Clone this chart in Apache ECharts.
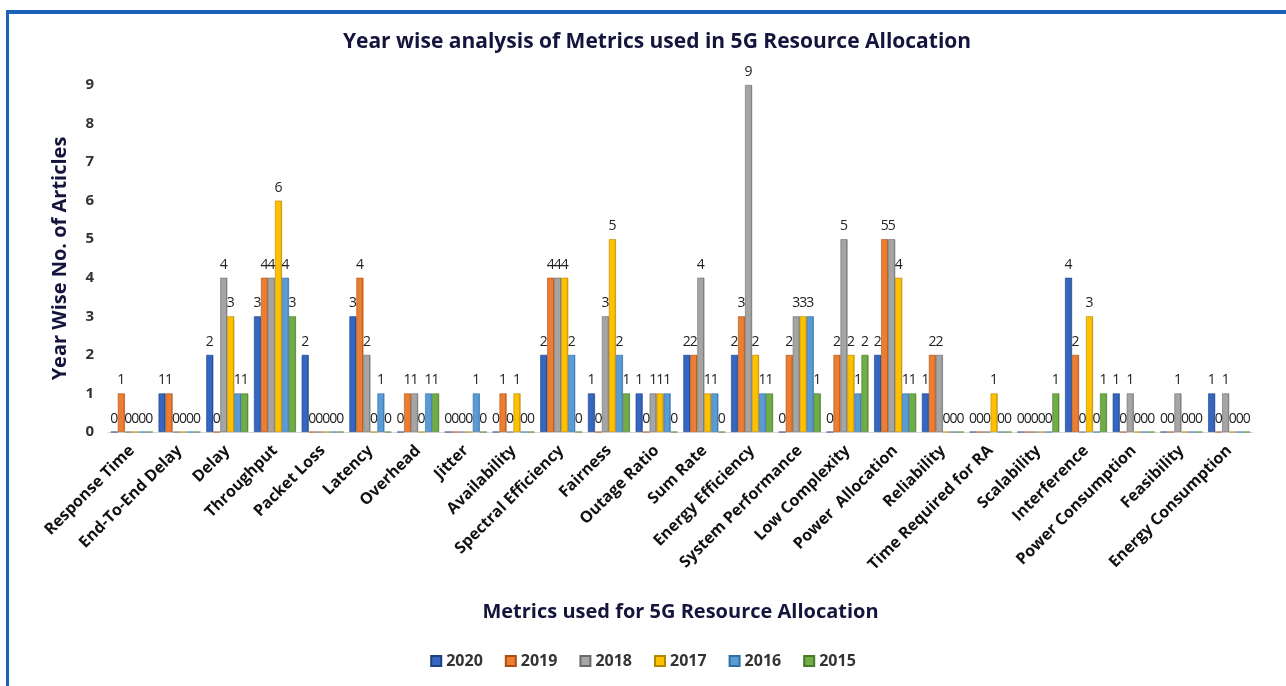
<!DOCTYPE html>
<html>
<head>
<meta charset="utf-8">
<script src="https://cdn.jsdelivr.net/npm/echarts@6/dist/echarts.min.js"></script>
<style>
  html, body { margin: 0; padding: 0; background: #fff; }
  #frame {
    position: absolute; left: 6px; top: 10px; width: 1290px; height: 690px;
    border-top: 4px solid #1a63b8; border-left: 3px solid #1a63b8;
  }
  #chart { position: absolute; left: 0; top: 0; width: 1286px; height: 686px; }
</style>
</head>
<body>
<div id="frame"></div>
<div id="chart"></div>
<script>
const categories = [
  'Response Time', 'End-To-End Delay', 'Delay', 'Throughput', 'Packet Loss', 'Latency',
  'Overhead', 'Jitter', 'Availability', 'Spectral Efficiency', 'Fairness', 'Outage Ratio',
  'Sum Rate', 'Energy Efficiency', 'System Performance', 'Low Complexity', 'Power  Allocation',
  'Reliability', 'Time Required for RA', 'Scalability', 'Interference', 'Power Consumption',
  'Feasibility', 'Energy Consumption'
]
const years = ['2020', '2019', '2018', '2017', '2016', '2015']

const v2020 = [0, 1, 2, 3, 2, 3, 0, 0, 0, 2, 1, 1, 2, 2, 0, 0, 2, 1, 0, 0, 4, 1, 0, 1]
const v2019 = [1, 1, 0, 4, 0, 4, 1, 0, 1, 4, 0, 0, 2, 3, 2, 2, 5, 2, 0, 0, 2, 0, 0, 0]
const v2018 = [0, 0, 4, 4, 0, 2, 1, 0, 0, 4, 3, 1, 4, 9, 3, 5, 5, 2, 0, 0, 0, 1, 1, 1]
const v2017 = [0, 0, 3, 6, 0, 0, 0, 0, 1, 4, 5, 1, 1, 2, 3, 2, 4, 0, 1, 0, 3, 0, 0, 0]
const v2016 = [0, 0, 1, 4, 0, 1, 1, 1, 0, 2, 2, 1, 1, 1, 3, 1, 1, 0, 0, 0, 0, 0, 0, 0]
const v2015 = [0, 0, 1, 3, 0, 0, 1, 0, 0, 0, 1, 0, 0, 1, 1, 2, 1, 0, 0, 1, 1, 0, 0, 0]
const yTicks = [0, 1, 2, 3, 4, 5, 6, 7, 8, 9]

const seriesValues = [v2020, v2019, v2018, v2017, v2016, v2015]
const colors = ['#3466c2', '#ed7d31', '#a5a5a5', '#ffc000', '#5b9bd5', '#70ad47']
const edges = ['#1f3f80', '#a84f14', '#6a6a6a', '#b38600', '#2f6ea6', '#467a2a']

const chart = echarts.init(document.getElementById('chart'))

const option = {
  animation: false,
  title: {
    text: 'Year wise analysis of Metrics used in 5G Resource Allocation',
    left: 652,
    top: 27,
    textAlign: 'center',
    textStyle: {
      fontFamily: 'Open Sans, sans-serif',
      fontSize: 21,
      fontWeight: 'bold',
      color: '#14143c'
    }
  },
  legend: {
    data: years.map((y, i) => ({ name: y, itemStyle: { color: colors[i] } })),
    bottom: 12,
    left: 'center',
    itemWidth: 10,
    itemHeight: 10,
    itemGap: 22,
    icon: 'rect',
    textStyle: { fontSize: 16, fontWeight: 'bold', color: '#333', fontFamily: 'Open Sans, sans-serif' }
  },
  grid: { left: 108, right: 33, top: 85, bottom: 254 },
  xAxis: {
    type: 'category',
    data: categories,
    name: 'Metrics used for 5G Resource Allocation',
    nameLocation: 'middle',
    nameGap: 170,
    nameTextStyle: { fontSize: 20, fontWeight: 'bold', color: '#14143c', fontFamily: 'Open Sans, sans-serif' },
    axisLine: { show: true, lineStyle: { color: '#d9d9d9' } },
    axisTick: { show: false },
    axisLabel: {
      interval: 0,
      rotate: 45,
      margin: 16,
      fontSize: 16,
      fontWeight: 'bold',
      color: '#111',
      fontFamily: 'Open Sans, sans-serif'
    }
  },
  yAxis: {
    type: 'value',
    min: 0,
    max: yTicks[yTicks.length - 1],
    interval: 1,
    name: 'Year Wise No. of Articles',
    nameLocation: 'middle',
    nameGap: 38,
    nameTextStyle: { fontSize: 20, fontWeight: 'bold', color: '#14143c', fontFamily: 'Open Sans, sans-serif' },
    axisLine: { show: false },
    axisTick: { show: false },
    splitLine: { show: false },
    axisLabel: { fontSize: 15, fontWeight: 'bold', color: '#333', margin: 14, fontFamily: 'Open Sans, sans-serif' }
  },
  series: years.map((y, i) => ({
    name: y,
    type: 'bar',
    data: seriesValues[i],
    barGap: '0%',
    barCategoryGap: '12%',
    itemStyle: {
      color: new echarts.graphic.LinearGradient(0, 0, 1, 0, [
        { offset: 0, color: colors[i] },
        { offset: 0.75, color: colors[i] },
        { offset: 1, color: edges[i] }
      ]),
      borderColor: edges[i],
      borderWidth: 0.6
    },
    label: {
      show: true,
      position: 'top',
      distance: 6,
      fontSize: 14,
      color: '#222',
      fontFamily: 'Open Sans, sans-serif'
    }
  }))
}

chart.setOption(option)
</script>
</body>
</html>
